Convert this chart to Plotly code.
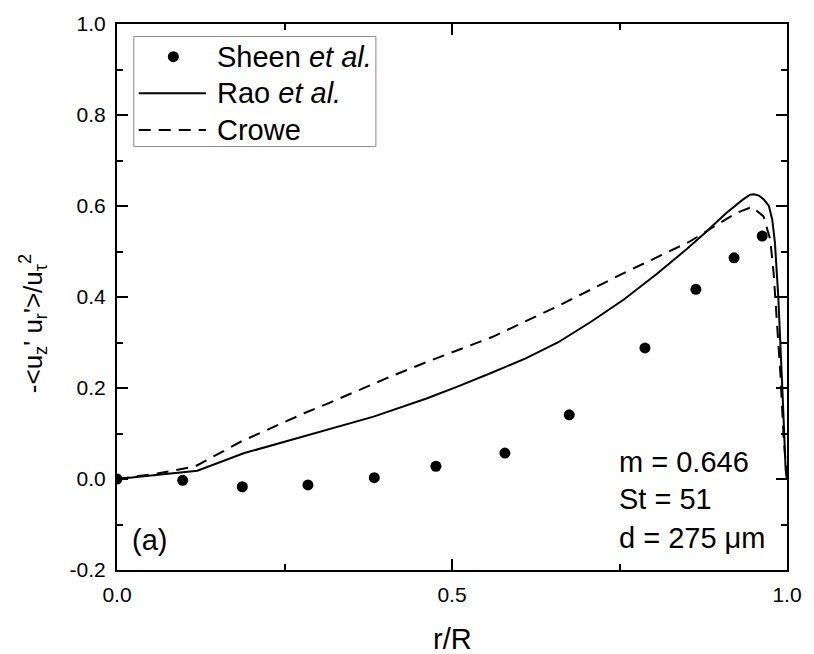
import plotly.graph_objects as go

# Sheen et al. measurements
sheen_r = [0.0, 0.098, 0.187, 0.285, 0.384, 0.476, 0.579, 0.675, 0.788, 0.864, 0.921, 0.963]
sheen_uv = [0.0, -0.003, -0.017, -0.013, 0.003, 0.028, 0.057, 0.141, 0.288, 0.417, 0.486, 0.534]

# Rao et al. prediction
rao_r = [0.0, 0.05, 0.12, 0.19, 0.28, 0.383, 0.462, 0.51, 0.56, 0.61, 0.658, 0.707, 0.757,
         0.806, 0.85, 0.877, 0.909, 0.934, 0.945, 0.951, 0.958, 0.965, 0.973, 0.978, 0.982,
         0.987, 0.993, 0.998, 1.0]
rao_uv = [0.0, 0.008, 0.018, 0.057, 0.094, 0.137, 0.177, 0.204, 0.234, 0.265, 0.3, 0.345, 0.395,
          0.451, 0.505, 0.54, 0.584, 0.614, 0.625, 0.626, 0.623, 0.615, 0.6, 0.57, 0.519,
          0.4, 0.2, 0.02, 0.0]

# Crowe prediction
crowe_r = [0.0, 0.06, 0.117, 0.186, 0.28, 0.318, 0.4, 0.462, 0.56, 0.658, 0.757, 0.855,
           0.899, 0.925, 0.948, 0.965, 0.975, 0.98, 0.985, 0.99, 0.995, 1.0]
crowe_uv = [0.0, 0.012, 0.028, 0.083, 0.145, 0.168, 0.22, 0.257, 0.312, 0.38, 0.453, 0.522,
            0.562, 0.585, 0.598, 0.577, 0.526, 0.453, 0.344, 0.235, 0.09, 0.0]

series_names = ["Sheen <i>et al.</i>", "Rao <i>et al.</i>", "Crowe"]
params = ["m = 0.646", "St = 51", "d = 275 μm"]
param_y = [0.037, -0.044, -0.129]
panel = "(a)"

FONT = "Liberation Sans, Arial, sans-serif"
TXT = dict(family=FONT, size=29, color="black")
DASH = "12px,8px"

fig = go.Figure()
fig.add_trace(go.Scatter(
    x=sheen_r, y=sheen_uv, mode="markers", name=series_names[0],
    marker=dict(symbol="circle", size=11, color="black"), showlegend=False,
))
fig.add_trace(go.Scatter(
    x=rao_r, y=rao_uv, mode="lines", name=series_names[1],
    line=dict(color="black", width=2), showlegend=False,
))
fig.add_trace(go.Scatter(
    x=crowe_r, y=crowe_uv, mode="lines", name=series_names[2],
    line=dict(color="black", width=2, dash=DASH), showlegend=False,
))

# Legend box drawn in axis-domain coordinates
leg_x0, leg_x1, leg_y0, leg_y1 = 0.0251, 0.3864, 0.7755, 0.977
row_y = [0.9401, 0.873, 0.8058]
sym_x0, sym_x1, sym_xc, txt_x = 0.0324, 0.1327, 0.0841, 0.147

fig.add_shape(type="rect", xref="x domain", yref="y domain",
              x0=leg_x0, x1=leg_x1, y0=leg_y0, y1=leg_y1,
              line=dict(color="#8a8a8a", width=1), fillcolor="white", layer="above")
fig.add_shape(type="circle", xref="x domain", yref="y domain",
              xsizemode="pixel", ysizemode="pixel",
              xanchor=sym_xc, yanchor=row_y[0], x0=-5.5, x1=5.5, y0=-5.5, y1=5.5,
              fillcolor="black", line=dict(color="black", width=0), layer="above")
fig.add_shape(type="line", xref="x domain", yref="y domain",
              x0=sym_x0, x1=sym_x1, y0=row_y[1], y1=row_y[1],
              line=dict(color="black", width=2), layer="above")
fig.add_shape(type="line", xref="x domain", yref="y domain",
              x0=sym_x0, x1=sym_x1, y0=row_y[2], y1=row_y[2],
              line=dict(color="black", width=2, dash=DASH), layer="above")
for name, yy in zip(series_names, row_y):
    fig.add_annotation(x=txt_x, y=yy, xref="x domain", yref="y domain", text=name,
                       showarrow=False, xanchor="left", yanchor="middle", font=TXT)

for txt, yy in zip(params, param_y):
    fig.add_annotation(x=0.746, y=yy, xref="x", yref="y", text=txt,
                       showarrow=False, xanchor="left", yanchor="middle", font=TXT)
fig.add_annotation(x=0.019, y=-0.135, xref="x", yref="y", text=panel, showarrow=False,
                   xanchor="left", yanchor="middle", font=TXT)

# Axis titles
fig.add_annotation(x=0.5, y=-0.127, xref="x domain", yref="y domain", text="r/R",
                   showarrow=False, xanchor="center", yanchor="middle", font=TXT)
fig.add_annotation(x=-0.1254, y=0.452, xref="x domain", yref="y domain",
                   text="-<u<sub>z</sub>' u<sub>r</sub>'>/u<sub>τ</sub><sup>2</sup>",
                   textangle=-90, showarrow=False, xanchor="center", yanchor="middle",
                   font=dict(family=FONT, size=26, color="black"))

axis_common = dict(
    showgrid=False, zeroline=False, showline=True, linecolor="black", linewidth=2,
    mirror="ticks", ticks="inside", ticklen=11, tickwidth=1.5, tickcolor="black",
    tickfont=dict(family=FONT, size=21, color="black"), ticklabelstandoff=5,
)

fig.update_xaxes(
    range=[0, 1], tickvals=[0, 0.5, 1.0], ticktext=["0.0", "0.5", "1.0"],
    minor=dict(tickvals=[0.25, 0.75], ticks="inside", ticklen=6, tickcolor="black", tickwidth=1.5),
    **axis_common,
)
fig.update_yaxes(
    range=[-0.2, 1.0], tickvals=[-0.2, 0, 0.2, 0.4, 0.6, 0.8, 1.0],
    ticktext=["-0.2", "0.0", "0.2", "0.4", "0.6", "0.8", "1.0"],
    minor=dict(tickvals=[-0.1, 0.1, 0.3, 0.5, 0.7, 0.9], ticks="inside", ticklen=6,
               tickcolor="black", tickwidth=1.5),
    **axis_common,
)

fig.update_layout(
    width=814, height=654,
    margin=dict(l=117, r=19, t=19, b=84),
    paper_bgcolor="white", plot_bgcolor="white",
    font=dict(family=FONT, color="black"),
    showlegend=False,
)

fig.write_html("out.html")
